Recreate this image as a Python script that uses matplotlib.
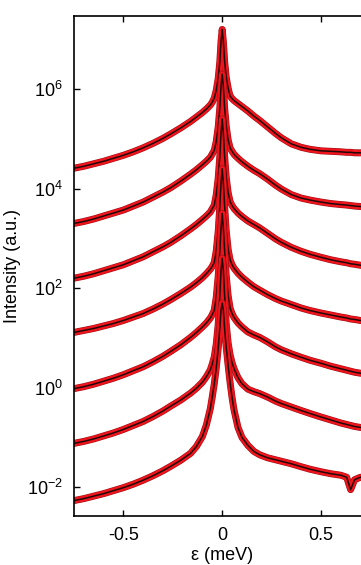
import matplotlib
matplotlib.use('Agg')
import matplotlib.pyplot as plt
import matplotlib.patheffects as pe
import numpy as np

plt.rcParams.update({
    'font.family': ['Liberation Sans', 'DejaVu Sans'],
    'mathtext.fontset': 'custom',
    'mathtext.rm': 'Liberation Sans',
    'font.size': 13,
})

# energy transfer (meV), shared by all spectra
energy = [-0.75, -0.7, -0.65, -0.6, -0.55, -0.5, -0.45, -0.4, -0.35, -0.3,
          -0.26, -0.21, -0.16, -0.13, -0.1, -0.08, -0.06, -0.05, -0.04,
          -0.03, -0.02, -0.012, -0.006, 0.0, 0.006, 0.012, 0.02, 0.03,
          0.04, 0.05, 0.06, 0.08, 0.1, 0.13, 0.16, 0.19, 0.23, 0.27, 0.3,
          0.35, 0.4, 0.445, 0.5, 0.55, 0.6, 0.63, 0.65, 0.67, 0.7, 0.75]

# log10 of intensity, spectra stacked from top to bottom
log_i1 = [4.41, 4.45, 4.50, 4.55, 4.61, 4.67, 4.74, 4.82, 4.91, 5.01,
          5.10, 5.22, 5.35, 5.44, 5.53, 5.60, 5.68, 5.74, 5.82,
          5.98, 6.22, 6.55, 6.95, 7.20, 6.95, 6.57, 6.25, 6.02,
          5.86, 5.81, 5.77, 5.71, 5.65, 5.56, 5.46, 5.37, 5.24, 5.11, 5.02,
          4.90, 4.83, 4.79, 4.76, 4.75, 4.74, 4.73, 4.73, 4.72, 4.72, 4.71]
log_i2 = [3.30, 3.34, 3.39, 3.45, 3.51, 3.57, 3.65, 3.73, 3.83, 3.93,
          4.02, 4.15, 4.29, 4.38, 4.48, 4.55, 4.63, 4.70, 4.77,
          4.95, 5.25, 5.62, 6.05, 6.30, 6.05, 5.64, 5.27, 4.98,
          4.82, 4.75, 4.69, 4.61, 4.54, 4.45, 4.37, 4.30, 4.19, 4.07, 3.99,
          3.88, 3.81, 3.77, 3.73, 3.70, 3.68, 3.67, 3.66, 3.65, 3.64, 3.63]
log_i3 = [2.20, 2.24, 2.29, 2.35, 2.41, 2.47, 2.55, 2.63, 2.73, 2.83,
          2.92, 3.05, 3.19, 3.28, 3.38, 3.45, 3.53, 3.60, 3.67,
          3.88, 4.22, 4.65, 5.10, 5.40, 5.10, 4.67, 4.24, 3.92,
          3.74, 3.66, 3.60, 3.51, 3.44, 3.35, 3.28, 3.21, 3.10, 2.99, 2.92,
          2.82, 2.74, 2.68, 2.62, 2.57, 2.53, 2.51, 2.49, 2.48, 2.46, 2.44]
log_i4 = [1.11, 1.15, 1.19, 1.24, 1.29, 1.35, 1.42, 1.49, 1.58, 1.68,
          1.77, 1.89, 2.02, 2.11, 2.21, 2.29, 2.38, 2.44, 2.52,
          2.75, 3.15, 3.65, 4.10, 4.40, 4.10, 3.67, 3.17, 2.78,
          2.57, 2.47, 2.40, 2.30, 2.22, 2.12, 2.03, 1.96, 1.87, 1.79, 1.74,
          1.67, 1.60, 1.55, 1.50, 1.46, 1.42, 1.40, 1.38, 1.37, 1.35, 1.33]
log_i5 = [-0.02, 0.02, 0.07, 0.13, 0.19, 0.26, 0.34, 0.42, 0.52, 0.63,
          0.73, 0.86, 1.01, 1.11, 1.22, 1.30, 1.40, 1.47, 1.56,
          1.82, 2.25, 2.75, 3.20, 3.50, 3.20, 2.77, 2.27, 1.85,
          1.60, 1.49, 1.41, 1.30, 1.22, 1.12, 1.06, 1.01, 0.92, 0.82, 0.76,
          0.68, 0.61, 0.55, 0.49, 0.43, 0.38, 0.35, 0.33, 0.31, 0.29, 0.27]
log_i6 = [-1.12, -1.08, -1.03, -0.97, -0.91, -0.84, -0.76, -0.68, -0.58, -0.47,
          -0.37, -0.25, -0.11, -0.01, 0.11, 0.22, 0.36, 0.48, 0.62,
          0.88, 1.28, 1.85, 2.35, 2.60, 2.35, 1.87, 1.30, 0.90,
          0.66, 0.50, 0.38, 0.20, 0.08, -0.03, -0.08, -0.12, -0.19, -0.27, -0.32,
          -0.39, -0.46, -0.52, -0.59, -0.65, -0.71, -0.74, -0.76, -0.78, -0.80, -0.82]
log_i7 = [-2.27, -2.23, -2.18, -2.13, -2.07, -2.01, -1.94, -1.86, -1.77, -1.67,
          -1.58, -1.46, -1.32, -1.18, -0.98, -0.75, -0.42, -0.18, 0.08,
          0.40, 0.80, 1.20, 1.55, 1.70, 1.55, 1.20, 0.82, 0.45,
          0.10, -0.20, -0.45, -0.80, -1.00, -1.16, -1.28, -1.35, -1.41, -1.45, -1.48,
          -1.53, -1.59, -1.64, -1.69, -1.73, -1.76, -1.80, -2.05, -1.85, -1.80, -1.82]

spectra = [log_i1, log_i2, log_i3, log_i4, log_i5, log_i6, log_i7]

fig = plt.figure(figsize=(3.61, 5.65), dpi=100)
ax = fig.add_axes([0.205, 0.0867, 0.821, 0.885])

e = np.array(energy)
for s in spectra:
    y = 10.0 ** np.array(s)
    # measured points (red band) and fit (thin black line)
    ax.plot(e, y, color='#f0141c', lw=4.2, solid_joinstyle='round',
            path_effects=[pe.Stroke(linewidth=5.0, foreground='#a01018'), pe.Normal()])
    ax.plot(e, y, color='#200808', lw=1.1)

ax.set_yscale('log')
ax.set_xlim(-0.75, 0.75)
ax.set_ylim(10 ** -2.58, 10 ** 7.47)
ax.set_xticks([-0.5, 0, 0.5])
ax.set_xticklabels(['-0.5', '0', '0.5'])
ax.set_yticks([1e-2, 1e0, 1e2, 1e4, 1e6])
ax.yaxis.set_minor_locator(matplotlib.ticker.NullLocator())
ax.tick_params(direction='in', length=4, width=1, top=True, right=True, pad=8)

ax.set_xlabel('ε (meV)', fontsize=13, labelpad=2)
ax.set_ylabel('Intensity (a.u.)', fontsize=13, labelpad=4)
for sp in ax.spines.values():
    sp.set_linewidth(1.2)

fig.savefig('out.png', dpi=100)
